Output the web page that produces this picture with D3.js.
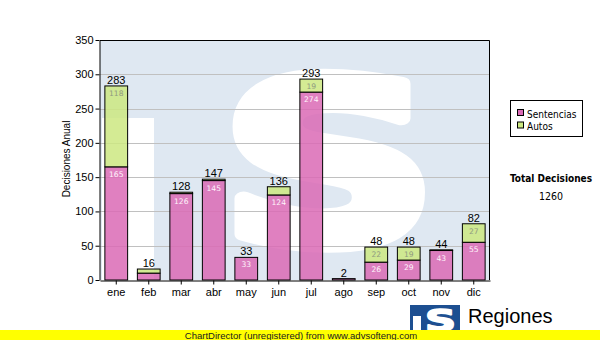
<!DOCTYPE html>
<html>
<head>
<meta charset="utf-8">
<script src="https://cdn.jsdelivr.net/npm/d3@7"></script>
<style>
  html, body { margin: 0; padding: 0; background: #ffffff; }
  svg { display: block; }
</style>
</head>
<body>
<svg id="chart" width="600" height="340"></svg>
<script>
// Monthly decisions, stacked: sentencias + autos
const months = ["ene", "feb", "mar", "abr", "may", "jun", "jul", "ago", "sep", "oct", "nov", "dic"];
const sentencias = [165, 10, 126, 145, 33, 124, 274, 2, 26, 29, 43, 55];
const autos = [118, 6, 2, 2, 0, 12, 19, 0, 22, 19, 1, 27];
const yTicks = [0, 50, 100, 150, 200, 250, 300, 350];
const seriesNames = ["Sentencias", "Autos"];
const totalLabel = "Total Decisiones";

const totals = months.map((m, i) => sentencias[i] + autos[i]);
const grandTotal = d3.sum(totals);

const svg = d3.select("#chart");
const plot = { left: 100, right: 490, top: 40, bottom: 280 };

const x = d3.scaleBand()
  .domain(months)
  .range([plot.left, plot.right])
  .paddingInner(0.3)
  .paddingOuter(0.15);

const y = d3.scaleLinear()
  .domain([0, 350])
  .range([plot.bottom, plot.top]);

const colors = { Sentencias: "#da6ab5", Autos: "#cce881" };

// Fit a glyph into a box; an outline of `grow` px thickens the strokes
function fitGlyph(sel, x0, y0, x1, y1, grow) {
  const b = sel.node().getBBox();
  const ix0 = x0 + grow / 2, iy0 = y0 + grow / 2, ix1 = x1 - grow / 2, iy1 = y1 - grow / 2;
  const sx = (ix1 - ix0) / b.width, sy = (iy1 - iy0) / b.height;
  sel.attr("transform", `translate(${ix0 - b.x * sx},${iy0 - b.y * sy}) scale(${sx},${sy})`)
    .attr("stroke-width", grow / ((sx + sy) / 2))
    .attr("stroke-linejoin", "round");
}

// Plot background with the faded emblem behind the bars
svg.append("defs").append("clipPath").attr("id", "plotClip")
  .append("rect")
  .attr("x", plot.left).attr("y", plot.top)
  .attr("width", plot.right - plot.left).attr("height", plot.bottom - plot.top);

const bg = svg.append("g").attr("clip-path", "url(#plotClip)");
bg.append("rect")
  .attr("x", plot.left).attr("y", plot.top)
  .attr("width", plot.right - plot.left).attr("height", plot.bottom - plot.top)
  .attr("fill", "#dfe8f2");
bg.append("rect")
  .attr("x", 102).attr("y", 118)
  .attr("width", 52).attr("height", plot.bottom - 118)
  .attr("fill", "#ffffff");
const bigS = bg.append("text")
  .attr("font-family", "DejaVu Sans")
  .attr("font-weight", "bold")
  .attr("font-size", 300)
  .attr("fill", "#ffffff")
  .attr("stroke", "#ffffff")
  .text("S");
fitGlyph(bigS, 212, 26, 446, 304, 16);

// Horizontal grid lines
svg.append("g")
  .selectAll("line")
  .data(yTicks.filter(t => t > 0 && t < 350))
  .join("line")
  .attr("x1", plot.left).attr("x2", plot.right)
  .attr("y1", d => Math.round(y(d)) + 0.5).attr("y2", d => Math.round(y(d)) + 0.5)
  .attr("stroke", "#c0c0c0")
  .attr("stroke-width", 1);

// Stacked bars
const stackData = months.map((m, i) => ({ month: m, Sentencias: sentencias[i], Autos: autos[i] }));
const stacked = d3.stack().keys(seriesNames)(stackData);

const barLayer = svg.append("g");
stacked.forEach(layer => {
  barLayer.append("g")
    .selectAll("rect")
    .data(layer)
    .join("rect")
    .attr("x", d => x(d.data.month))
    .attr("y", d => y(d[1]))
    .attr("width", x.bandwidth())
    .attr("height", d => y(d[0]) - y(d[1]))
    .attr("fill", colors[layer.key])
    .attr("fill-opacity", 0.85)
    .attr("stroke", "#000000")
    .attr("stroke-width", 1);
});

// Segment value labels inside the bars
stacked.forEach(layer => {
  barLayer.append("g")
    .selectAll("text")
    .data(layer.filter(d => y(d[0]) - y(d[1]) >= 12))
    .join("text")
    .attr("x", d => x(d.data.month) + x.bandwidth() / 2)
    .attr("y", d => y(d[1]) + 10)
    .attr("text-anchor", "middle")
    .attr("font-family", "DejaVu Sans")
    .attr("font-size", 7.6)
    .attr("fill", layer.key === "Sentencias" ? "#fff4fb" : "#8f9a80")
    .text(d => d[1] - d[0]);
});

// Totals above each bar
svg.append("g")
  .selectAll("text")
  .data(months)
  .join("text")
  .attr("x", m => x(m) + x.bandwidth() / 2)
  .attr("y", (m, i) => y(totals[i]) - 2)
  .attr("text-anchor", "middle")
  .attr("font-family", "Liberation Sans, Arial, sans-serif")
  .attr("font-size", 11)
  .attr("fill", "#000000")
  .text((m, i) => totals[i]);

// Frame
svg.append("path")
  .attr("d", `M${plot.left},${plot.top + 0.5}H${plot.right - 0.5}V${plot.bottom}`)
  .attr("fill", "none")
  .attr("stroke", "#000000");

// Axes
const yAxis = svg.append("g")
  .attr("transform", `translate(${plot.left - 0.5},0)`)
  .call(d3.axisLeft(y).tickValues(yTicks).tickSize(4).tickPadding(2).tickSizeOuter(0));
yAxis.selectAll("text")
  .attr("font-family", "Liberation Sans, Arial, sans-serif")
  .attr("font-size", 11)
  .attr("fill", "#000000");

const xAxis = svg.append("g")
  .attr("transform", `translate(0,${plot.bottom + 0.5})`)
  .call(d3.axisBottom(x).tickSize(4).tickPadding(4).tickSizeOuter(0));
xAxis.selectAll("text")
  .attr("font-family", "Liberation Sans, Arial, sans-serif")
  .attr("font-size", 11)
  .attr("fill", "#000000");
svg.selectAll(".domain, .tick line").attr("stroke", "#000000");

svg.append("text")
  .attr("transform", "translate(70,159) rotate(-90)")
  .attr("text-anchor", "middle")
  .attr("font-family", "Liberation Sans, Arial, sans-serif")
  .attr("font-size", 10)
  .attr("fill", "#000000")
  .text("Decisiones Anual");

// Legend
const legend = svg.append("g");
legend.append("rect")
  .attr("x", 510.5).attr("y", 100.5)
  .attr("width", 72).attr("height", 36)
  .attr("fill", "#ffffff")
  .attr("stroke", "#000000");
seriesNames.forEach((name, i) => {
  legend.append("rect")
    .attr("x", 517.5).attr("y", 109.5 + i * 12.5)
    .attr("width", 6).attr("height", 6)
    .attr("fill", colors[name])
    .attr("stroke", "#000000");
  legend.append("text")
    .attr("x", 527).attr("y", 117.5 + i * 12.5)
    .attr("font-family", "DejaVu Sans Condensed, DejaVu Sans")
    .attr("font-stretch", "condensed")
    .attr("font-size", 10)
    .attr("fill", "#000000")
    .text(name);
});

// Grand total
svg.append("text")
  .attr("x", 551).attr("y", 181.5)
  .attr("text-anchor", "middle")
  .attr("font-family", "DejaVu Sans Condensed, DejaVu Sans")
  .attr("font-stretch", "condensed")
  .attr("font-weight", "bold")
  .attr("font-size", 10)
  .attr("fill", "#000000")
  .text(totalLabel);
svg.append("text")
  .attr("x", 551).attr("y", 199.5)
  .attr("text-anchor", "middle")
  .attr("font-family", "DejaVu Sans Condensed, DejaVu Sans")
  .attr("font-stretch", "condensed")
  .attr("font-size", 10.5)
  .attr("fill", "#000000")
  .text(grandTotal);

// Emblem and caption at the bottom right
svg.append("rect")
  .attr("x", 410).attr("y", 305)
  .attr("width", 50).attr("height", 35)
  .attr("fill", "#1d4f91");
svg.append("rect")
  .attr("x", 413).attr("y", 316)
  .attr("width", 8).attr("height", 24)
  .attr("fill", "#ffffff");
const smallS = svg.append("text")
  .attr("font-family", "DejaVu Sans")
  .attr("font-weight", "bold")
  .attr("font-size", 40)
  .attr("fill", "#ffffff")
  .attr("stroke", "#ffffff")
  .text("S");
fitGlyph(smallS, 424, 303, 457, 339, 2);
svg.append("text")
  .attr("x", 468).attr("y", 323)
  .attr("font-family", "Liberation Sans, Arial, sans-serif")
  .attr("font-size", 20)
  .attr("fill", "#000000")
  .text("Regiones");
svg.append("text")
  .attr("x", 467).attr("y", 338)
  .attr("font-family", "Liberation Sans, Arial, sans-serif")
  .attr("font-size", 10)
  .attr("fill", "#000000")
  .text("Tribunal Supremo de Justicia");

// Footer band
svg.append("rect")
  .attr("x", 0).attr("y", 330)
  .attr("width", 600).attr("height", 10)
  .attr("fill", "#ffff00");
svg.append("text")
  .attr("x", 301).attr("y", 338.5)
  .attr("text-anchor", "middle")
  .attr("font-family", "Liberation Sans, Arial, sans-serif")
  .attr("font-size", 9.5)
  .attr("fill", "#202020")
  .text("ChartDirector (unregistered) from www.advsofteng.com");
</script>
</body>
</html>
